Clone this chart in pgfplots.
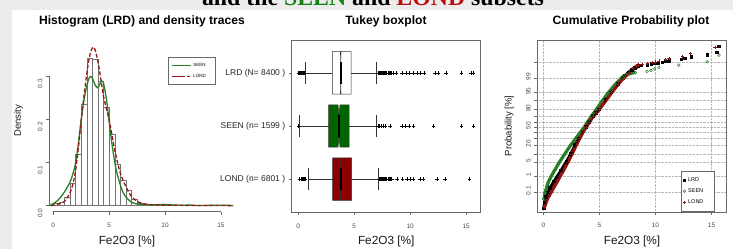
\documentclass[border=0pt]{standalone}
\usepackage{pgfplots}
\pgfplotsset{compat=1.18}
\usepackage{fontspec}
\setmainfont{Liberation Sans}
\newfontfamily\titleserif{Liberation Serif}
\definecolor{seenfill}{RGB}{0,100,0}
\definecolor{londfill}{RGB}{139,0,0}
\definecolor{seenline}{RGB}{40,130,40}
\definecolor{londline}{RGB}{150,25,25}
\definecolor{seencum}{RGB}{40,125,40}
\definecolor{londcum}{RGB}{145,20,20}
\definecolor{seentitle}{RGB}{20,130,20}
\definecolor{londtitle}{RGB}{185,15,15}
\definecolor{framegray}{RGB}{105,105,105}
\definecolor{ticktext}{RGB}{75,75,75}
\definecolor{bggray}{RGB}{236,236,236}
\pgfplotsset{
  rpanel/.style={
    scale only axis,
    tick align=outside, major tick length=3pt,
    tick style={framegray, line width=0.5pt},
    axis line style={framegray, line width=0.6pt},
    tick label style={font=\fontsize{6.5}{7}\selectfont, text=ticktext},
    /pgf/number format/assume math mode=true,
    xlabel style={font=\fontsize{11.8}{13}\selectfont, text=black!90},
    ylabel style={font=\fontsize{9.5}{11}\selectfont, text=black!90},
    unbounded coords=jump,
  }
}
\begin{document}
\begin{tikzpicture}
\path[use as bounding box] (0pt,0pt) rectangle (733pt,249pt);
\fill[white] (0pt,0pt) rectangle (733pt,249pt);
\fill[bggray] (0pt,0pt) rectangle (12pt,249pt);
\fill[bggray] (0pt,239pt) rectangle (733pt,249pt);
\begin{scope}
\clip (0pt,239pt) rectangle (733pt,249pt);
\node[anchor=base, inner sep=0pt, font=\titleserif\bfseries\fontsize{23.8}{26}\selectfont] at (373pt,243.4pt) {and the \textcolor{seentitle}{SEEN} and \textcolor{londtitle}{LOND} subsets};
\end{scope}
\node[anchor=base, inner sep=0pt, font=\bfseries\fontsize{12.1}{14}\selectfont] at (142pt,224.3pt) {Histogram (LRD) and density traces};
\node[anchor=base, inner sep=0pt, font=\bfseries\fontsize{12.1}{14}\selectfont] at (386pt,224.3pt) {Tukey boxplot};
\node[anchor=base, inner sep=0pt, font=\bfseries\fontsize{12.1}{14}\selectfont] at (631pt,224.3pt) {Cumulative Probability plot};
\coordinate (P1) at (49pt,37.3pt);
\coordinate (P2) at (291.7pt,37pt);
\coordinate (P3) at (537.3pt,37pt);

% ---------- Panel 1: histogram + densities ----------
\begin{axis}[rpanel,
  at={(P1)}, anchor=south west, width=186.5pt, height=170.2pt,
  xmin=-0.385, xmax=16.3, ymin=-0.0139, ymax=0.38,
  axis x line*=bottom, axis y line*=left,
  axis line style={draw=none},
  xtick={0,5,10,15}, ytick={0,0.1,0.2,0.3}, yticklabels={0.0,0.1,0.2,0.3},
  yticklabel style={rotate=90, anchor=south, xshift=-7.5pt},
  xticklabel style={yshift=-5pt},
  xlabel={Fe2O3 [\%]}, ylabel={Density},
  xlabel style={at={(axis description cs:0.418,0)}, anchor=base, yshift=-32.6pt},
  ylabel style={at={(axis description cs:-0.1646,0.534)}, anchor=center},
  clip=false,
  legend style={at={(axis cs:10.29,0.3435)}, anchor=north west, draw=framegray, line width=0.5pt,
    font=\fontsize{4.5}{5}\selectfont, inner xsep=2.5pt, inner ysep=3.5pt, row sep=2.2pt},
  legend cell align=left,
  legend image code/.code={\path (0pt,0pt) -- (19pt,0pt); \draw[#1] (3pt,0pt) -- (12pt,0pt);},
]
\draw[framegray, line width=0.6pt] (axis cs:0,-0.0139) -- (axis cs:15,-0.0139);
\draw[framegray, line width=0.6pt] (axis cs:-0.385,0) -- (axis cs:-0.385,0.3);
\addlegendimage{draw=seenline, line width=1.3pt}
\addlegendentry{SEEN\hspace*{5pt}}
\addlegendimage{draw=londline, line width=1.3pt, dash pattern=on 3.5pt off 1.5pt}
\addlegendentry{LOND\hspace*{5pt}}
\addplot[ybar interval, draw=black!55, fill=white, line width=0.45pt, forget plot] coordinates {
 (0,0.005) (0.5,0.009) (1,0.020) (1.5,0.052) (2,0.120) (2.5,0.235) (3,0.342) (3.5,0.340)
 (4,0.288) (4.5,0.227) (5,0.166) (5.5,0.095) (6,0.059) (6.5,0.036) (7,0.015) (7.5,0.006)
 (8,0.003) (8.5,0.002) (9,0.001) (9.5,0.001) (10,0.001) (10.5,0.001) (11,0.0005) (11.5,0.0003)
 (12,0.0003) (12.5,0.0002) (13,0.0003) (13.5,0) (14,0) (14.5,0.0002) (15,0) (15.5,0.0003) (16,0)};
\addplot[seenline, line width=1.3pt, smooth, tension=0.5, forget plot] coordinates {
 (-0.4,0) (-0.2,0.002) (0,0.005) (0.3,0.010) (0.6,0.018) (1.0,0.032) (1.5,0.055) (1.8,0.078)
 (2.0,0.100) (2.25,0.145) (2.5,0.200) (2.75,0.245) (3.0,0.278) (3.2,0.295) (3.37,0.299)
 (3.55,0.292) (3.75,0.279) (3.97,0.273) (4.15,0.281) (4.32,0.289) (4.45,0.287) (4.6,0.270)
 (4.8,0.238) (5.0,0.195) (5.2,0.152) (5.45,0.108) (5.7,0.075) (6.0,0.048) (6.25,0.030)
 (6.5,0.020) (7.0,0.008) (7.5,0.004) (8.0,0.003) (9.0,0.002) (9.8,0.003) (10.5,0.002)
 (11.5,0.001) (12.2,0.0015) (13,0.0005) (14.6,0.001) (15.6,0.001) (16.1,0)};
\addplot[londline, line width=1.3pt, dash pattern=on 4pt off 2pt, smooth, tension=0.5, forget plot] coordinates {
 (-0.2,0) (0,0.001) (0.5,0.004) (1.0,0.010) (1.5,0.030) (1.8,0.055) (2.0,0.083) (2.25,0.135)
 (2.5,0.198) (2.75,0.255) (3.0,0.306) (3.2,0.340) (3.4,0.360) (3.58,0.367) (3.75,0.360)
 (3.9,0.345) (4.1,0.318) (4.3,0.285) (4.5,0.252) (4.75,0.225) (5.0,0.198) (5.25,0.163)
 (5.5,0.129) (5.75,0.100) (6.0,0.075) (6.25,0.058) (6.5,0.044) (6.75,0.031) (7.0,0.021)
 (7.5,0.010) (8.0,0.005) (8.5,0.003) (9.0,0.002) (10,0.001) (11,0.001) (12.4,0.0005)
 (13.1,0.0005) (15.3,0.0003) (16.1,0)};
\end{axis}

% ---------- Panel 2: Tukey boxplot ----------
\begin{axis}[rpanel,
  at={(P2)}, anchor=south west, width=189pt, height=172pt,
  xmin=-0.59, xmax=16.3, ymin=0.38, ymax=3.62,
  tick pos=left,
  xtick={0,5,10,15}, ytick={1,2,3},
  yticklabels={LOND (n= 6801 ), SEEN (n= 1599 ), LRD (N= 8400 )},
  yticklabel style={font=\fontsize{8.5}{10}\selectfont, text=black!85},
  xticklabel style={yshift=-5pt},
  xlabel={Fe2O3 [\%]},
  xlabel style={at={(axis description cs:0.5,0)}, anchor=base, yshift=-32.3pt},
  clip=false,
]
% LRD box (y=3)
\addplot[fill=white, draw=black!80, line width=0.5pt] coordinates {
 (3.04,2.6) (3.761,2.6) (3.79,2.8) (3.819,2.6) (4.71,2.6) (4.71,3.4) (3.819,3.4) (3.79,3.2) (3.761,3.4) (3.04,3.4) (3.04,2.6)};
\addplot[black!80, line width=0.5pt] coordinates {
 (0.6,3) (3.04,3) (nan,nan) (4.71,3) (7.0,3) (nan,nan) (0.6,2.8) (0.6,3.2) (nan,nan) (7.0,2.8) (7.0,3.2)};
\addplot[black, line width=2pt] coordinates {(3.79,2.8) (3.79,3.2)};
\addplot[only marks, mark=+, mark size=1.8pt, black, mark options={line width=0.5pt}] coordinates {
 (0.02,3) (0.08,3) (0.13,3) (0.18,3) (0.23,3) (0.28,3) (0.33,3) (0.38,3) (0.44,3) (0.5,3) (0.55,3)
 (7.1,3) (7.2,3) (7.3,3) (7.4,3) (7.5,3) (7.6,3) (7.7,3) (7.8,3) (7.9,3) (8.0,3) (8.1,3) (8.2,3) (8.3,3) (8.45,3)
 (8.74,3) (9.25,3) (9.63,3) (9.93,3) (10.23,3) (10.59,3) (10.89,3) (11.24,3) (12.2,3) (12.5,3) (13.18,3)
 (14.6,3) (15.45,3) (15.66,3)};
% SEEN box (y=2)
\addplot[fill=seenfill, draw=black!80, line width=0.5pt] coordinates {
 (2.72,1.6) (3.55,1.6) (3.64,1.8) (3.73,1.6) (4.54,1.6) (4.54,2.4) (3.73,2.4) (3.64,2.2) (3.55,2.4) (2.72,2.4) (2.72,1.6)};
\addplot[black!80, line width=0.5pt] coordinates {
 (0.09,2) (2.72,2) (nan,nan) (4.54,2) (6.95,2) (nan,nan) (0.09,1.8) (0.09,2.2) (nan,nan) (6.95,1.8) (6.95,2.2)};
\addplot[black, line width=2pt] coordinates {(3.64,1.8) (3.64,2.2)};
\addplot[only marks, mark=+, mark size=1.8pt, black, mark options={line width=0.5pt}] coordinates {
 (0.02,2) (7.1,2) (7.25,2) (7.4,2) (7.55,2) (7.75,2) (8.2,2) (9.25,2) (9.6,2) (9.93,2) (10.3,2)
 (12.07,2) (14.6,2) (15.66,2)};
% LOND box (y=1)
\addplot[fill=londfill, draw=black!80, line width=0.5pt] coordinates {
 (3.07,0.6) (3.757,0.6) (3.79,0.8) (3.823,0.6) (4.77,0.6) (4.77,1.4) (3.823,1.4) (3.79,1.2) (3.757,1.4) (3.07,1.4) (3.07,0.6)};
\addplot[black!80, line width=0.5pt] coordinates {
 (0.9,1) (3.07,1) (nan,nan) (4.77,1) (7.1,1) (nan,nan) (0.9,0.8) (0.9,1.2) (nan,nan) (7.1,0.8) (7.1,1.2)};
\addplot[black, line width=2pt] coordinates {(3.79,0.8) (3.79,1.2)};
\addplot[only marks, mark=+, mark size=1.8pt, black, mark options={line width=0.5pt}] coordinates {
 (0.1,1) (0.3,1) (0.38,1) (0.45,1) (0.52,1) (0.58,1) (0.65,1)
 (7.2,1) (7.3,1) (7.4,1) (7.5,1) (7.6,1) (7.7,1) (7.8,1) (7.9,1) (8.0,1) (8.1,1) (8.2,1) (8.35,1)
 (8.8,1) (9.3,1) (9.7,1) (10.0,1) (10.3,1) (10.9,1) (11.2,1) (12.4,1) (13.1,1) (15.3,1)};
\end{axis}

% ---------- Panel 3: cumulative probability ----------
\begin{axis}[rpanel,
  at={(P3)}, anchor=south west, width=189.4pt, height=172pt,
  xmin=-0.535, xmax=16.35, ymin=-4.02, ymax=4.14,
  tick pos=left,
  xtick={0,5,10,15},
  ytick={-3.090,-2.326,-1.645,-1.282,-0.842,-0.524,-0.253,0,0.253,0.524,0.842,1.282,1.645,2.326,3.090},
  yticklabels={0.1,1,5,,20,,,50,,,80,,95,99,},
  yticklabel style={rotate=90, anchor=south, xshift=1.5pt},
  xticklabel style={yshift=-4.5pt},
  grid=major, major grid style={densely dotted, black!28, line width=0.45pt},
  xlabel={Fe2O3 [\%]}, ylabel={Probability [\%]},
  xlabel style={at={(axis description cs:0.5,0)}, anchor=base, yshift=-32.3pt},
  ylabel style={at={(axis description cs:-0.148,0.501)}, anchor=center},
  legend style={at={(axis cs:12.25,-2.06)}, anchor=north west, draw=framegray, line width=0.5pt,
    font=\fontsize{5.5}{6}\selectfont, inner xsep=2pt, inner ysep=4.5pt, row sep=1.8pt},
  legend cell align=left,
]
\addlegendimage{only marks, mark=square*, mark size=1.1pt, draw=black, fill=black}
\addlegendentry{LRD}
\addlegendimage{only marks, mark=o, mark size=1.3pt, draw=seencum, mark options={line width=0.5pt, draw=seencum}}
\addlegendentry{SEEN\hspace*{7pt}}
\addlegendimage{only marks, mark=+, mark size=1.6pt, draw=londcum, mark options={line width=0.6pt, draw=londcum}}
\addlegendentry{LOND}
% LRD
\addplot[black, line width=3.2pt, mark=square*, mark size=1.3pt, mark options={line width=0pt}, forget plot] coordinates {
 (0.05,-3.85) (0.12,-3.56) (0.18,-3.43) (0.25,-3.3) (0.4,-3.09) (0.6,-2.88) (0.95,-2.58) (1.25,-2.33)
 (1.6,-2.05) (2.05,-1.645) (2.45,-1.28) (2.85,-0.84) (3.04,-0.674) (3.2,-0.524) (3.5,-0.253) (3.79,0)
 (4.1,0.253) (4.43,0.524) (4.71,0.674) (4.95,0.842) (5.55,1.28) (6.05,1.645) (6.65,2.054) (7.05,2.326)
 (7.3,2.45) (7.6,2.6) (7.9,2.72) (8.2,2.82) (8.5,2.9)};
\addplot[only marks, mark=square*, mark size=1.3pt, black, forget plot] coordinates {
 (8.74,2.94) (9.25,2.98) (9.63,3.01) (9.93,3.03) (10.23,3.06) (10.59,3.09) (10.89,3.13) (11.24,3.17)
 (12.3,3.22) (12.6,3.27) (13.18,3.34) (14.6,3.43) (15.45,3.56) (15.66,3.85)};
% SEEN
\addplot[seencum, line width=3.2pt, mark=o, mark size=1.5pt, mark options={line width=0.5pt}, forget plot] coordinates {
 (0.05,-3.42) (0.15,-3.11) (0.25,-2.95) (0.35,-2.77) (0.45,-2.6) (0.7,-2.326) (1.0,-2.054) (1.45,-1.645)
 (1.9,-1.282) (2.45,-0.842) (2.7,-0.674) (2.9,-0.524) (3.28,-0.253) (3.64,0) (3.95,0.253) (4.28,0.524)
 (4.5,0.674) (4.72,0.842) (5.3,1.282) (5.8,1.645) (6.45,2.054) (6.95,2.326) (7.2,2.44) (7.4,2.48)
 (7.6,2.52) (7.8,2.56) (8.2,2.6)};
\addplot[only marks, mark=o, mark size=1.4pt, seencum, mark options={line width=0.5pt}, forget plot] coordinates {
 (9.25,2.65) (9.6,2.70) (9.93,2.77) (10.3,2.85) (12.07,2.95) (14.6,3.11) (15.66,3.42)};
% LOND
\addplot[londcum, line width=3.2pt, mark=+, mark size=1.7pt, mark options={line width=0.5pt}, forget plot] coordinates {
 (0.1,-3.8) (0.3,-3.5) (0.5,-3.25) (0.7,-3.09) (1.0,-2.8) (1.25,-2.576) (1.5,-2.326) (1.8,-2.054)
 (2.2,-1.645) (2.55,-1.282) (2.95,-0.842) (3.1,-0.674) (3.25,-0.524) (3.52,-0.253) (3.8,0) (4.12,0.253)
 (4.45,0.524) (4.72,0.674) (4.98,0.842) (5.6,1.282) (6.1,1.645) (6.7,2.054) (7.1,2.3) (7.4,2.45)
 (7.7,2.62) (8.0,2.78) (8.3,2.9) (8.5,2.95)};
\addplot[only marks, mark=+, mark size=1.6pt, londcum, mark options={line width=0.6pt}, forget plot] coordinates {
 (8.8,2.99) (9.3,3.02) (9.7,3.06) (10.0,3.10) (10.3,3.15) (10.9,3.21) (11.2,3.28) (12.4,3.37) (13.1,3.51) (15.3,3.80)};
\end{axis}
\end{tikzpicture}
\end{document}
